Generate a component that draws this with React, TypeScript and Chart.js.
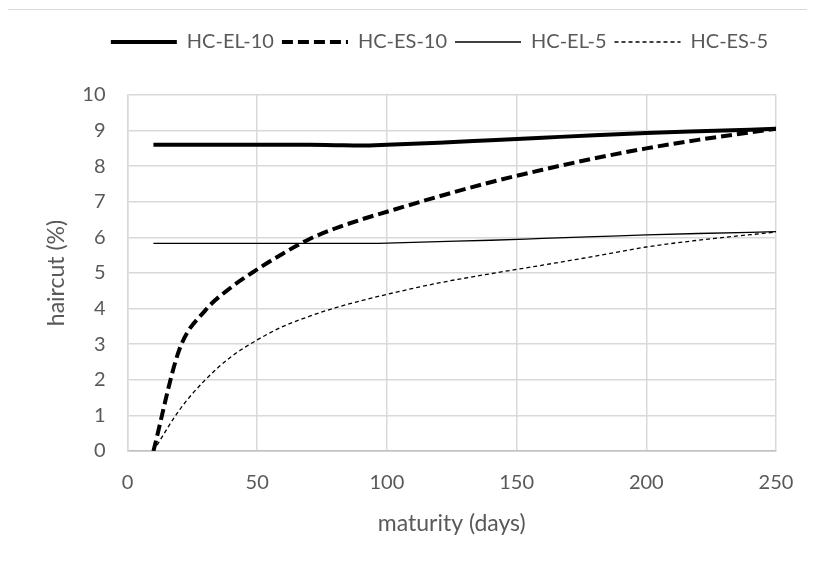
import React, { useEffect, useRef } from 'react';
import { Chart, registerables } from 'chart.js';

Chart.register(...registerables);

const maturity = [10, 20, 30, 40, 50, 60, 70, 80, 90, 100, 120, 140, 160, 180, 200, 220, 250];
const hcEL10 = [8.6, 8.6, 8.6, 8.6, 8.6, 8.6, 8.6, 8.59, 8.58, 8.6, 8.66, 8.73, 8.8, 8.87, 8.93, 8.98, 9.05];
const hcES10 = [0, 2.85, 3.95, 4.6, 5.1, 5.55, 5.95, 6.25, 6.5, 6.72, 7.15, 7.55, 7.9, 8.22, 8.5, 8.74, 9.05];
const hcEL5 = [5.83, 5.83, 5.83, 5.83, 5.83, 5.83, 5.83, 5.83, 5.83, 5.84, 5.88, 5.92, 5.97, 6.02, 6.07, 6.11, 6.16];
const hcES5 = [0, 1.15, 2.0, 2.65, 3.12, 3.5, 3.78, 4.02, 4.22, 4.4, 4.72, 4.98, 5.22, 5.47, 5.73, 5.92, 6.15];

const seriesNames = ['HC-EL-10', 'HC-ES-10', 'HC-EL-5', 'HC-ES-5'];
const xTitle = 'maturity (days)';
const yTitle = 'haircut (%)';

const TEXT = '#595959';

function toPoints(vals: number[]) {
  return maturity.map((m, i) => ({ x: m, y: vals[i] }));
}

const legendGap = {
  id: 'legendGap',
  beforeInit(chart: any) {
    const legend = chart.legend;
    if (!legend) return;
    const origFit = legend.fit;
    legend.fit = function () {
      origFit.call(this);
      this.height += 33;
    };
  },
};

export default function App() {
  const ref = useRef<HTMLCanvasElement | null>(null);

  useEffect(() => {
    if (!ref.current) return;
    Chart.defaults.font.family = 'Lato';
    const common = {
      pointRadius: 0,
      fill: false,
      borderColor: '#000000',
      backgroundColor: '#000000',
      cubicInterpolationMode: 'monotone' as const,
    };
    const chart = new Chart(ref.current, {
      type: 'line',
      data: {
        datasets: [
          { ...common, label: seriesNames[0], data: toPoints(hcEL10), borderWidth: 4 },
          { ...common, label: seriesNames[1], data: toPoints(hcES10), borderWidth: 4, borderDash: [11, 5] },
          { ...common, label: seriesNames[2], data: toPoints(hcEL5), borderWidth: 1.3 },
          { ...common, label: seriesNames[3], data: toPoints(hcES5), borderWidth: 1.3, borderDash: [4, 3] },
        ],
      },
      plugins: [legendGap],
      options: {
        animation: false,
        responsive: false,
        maintainAspectRatio: false,
        layout: { padding: { left: 31, right: 39, top: 14, bottom: 0 } },
        plugins: {
          tooltip: { enabled: false },
          legend: {
            position: 'top',
            align: 'end',
            labels: {
              usePointStyle: true,
              pointStyle: 'line',
              pointStyleWidth: 66,
              boxHeight: 20,
              padding: 8,
              color: TEXT,
              font: { size: 20, family: 'Lato' },
              generateLabels: (ch: any) =>
                ch.data.datasets.map((ds: any, i: number) => ({
                  text: ds.label,
                  datasetIndex: i,
                  fillStyle: ds.borderColor,
                  strokeStyle: ds.borderColor,
                  lineWidth: ds.borderWidth,
                  lineDash: ds.borderDash || [],
                  lineCap: 'butt',
                  pointStyle: 'line',
                  fontColor: TEXT,
                  hidden: false,
                })),
            },
          },
        },
        scales: {
          x: {
            type: 'linear',
            min: 0,
            max: 250,
            afterFit: (s: any) => { s.height = 114; },
            ticks: { stepSize: 50, color: TEXT, font: { size: 20 }, padding: 20 },
            grid: { color: '#d9d9d9', lineWidth: 1.5, drawTicks: false },
            border: { color: '#bfbfbf', width: 1.5 },
            title: { display: true, text: xTitle, color: TEXT, font: { size: 23 }, padding: { top: 0, bottom: 28 } },
          },
          y: {
            min: 0,
            max: 10,
            afterFit: (s: any) => { s.width = 88.5; },
            ticks: { stepSize: 1, color: TEXT, font: { size: 20 }, padding: 22 },
            grid: { color: '#d9d9d9', lineWidth: 1.5, drawTicks: false },
            border: { color: '#d9d9d9', width: 1.5 },
            title: { display: true, text: yTitle, color: TEXT, font: { size: 23 }, padding: { top: 4, bottom: 0 } },
          },
        },
      },
    });
    return () => chart.destroy();
  }, []);

  return (
    <div
      style={{
        marginLeft: -1,
        marginTop: 1,
        width: 807,
        height: 555,
        borderLeft: '1px solid #d9d9d9',
        borderTop: '1px solid #d9d9d9',
        background: '#ffffff',
      }}
    >
      <canvas ref={ref} width={807} height={555} style={{ display: 'block' }} />
    </div>
  );
}
